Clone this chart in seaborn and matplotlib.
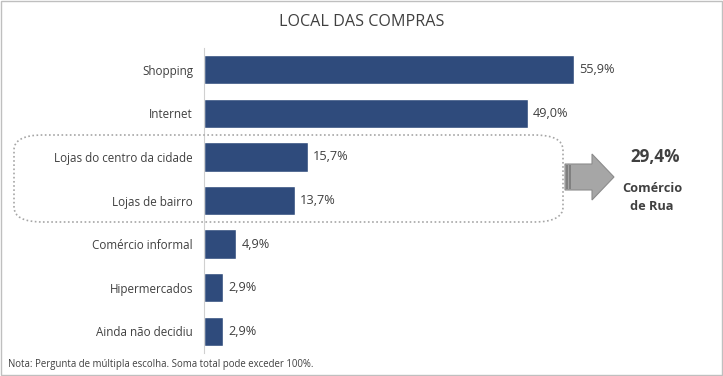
import pandas as pd
import seaborn as sns
import matplotlib.pyplot as plt
from matplotlib.patches import FancyBboxPatch, FancyArrow, Rectangle

categories = ["Shopping", "Internet", "Lojas do centro da cidade", "Lojas de bairro",
              "Comércio informal", "Hipermercados", "Ainda não decidiu"]
values = [55.9, 49.0, 15.7, 13.7, 4.9, 2.9, 2.9]
value_labels = ["55,9%", "49,0%", "15,7%", "13,7%", "4,9%", "2,9%", "2,9%"]
group_total = "29,4%"
group_name = "Comércio\nde Rua"

sns.set_style("white")
plt.rcParams["font.family"] = ["Open Sans", "DejaVu Sans"]

text_color = "#404040"
bar_color = "#2F4B7C"

df = pd.DataFrame({"categoria": categories, "valor": values})

fig = plt.figure(figsize=(7.23, 3.76), dpi=100)
ax = fig.add_axes([204 / 723, 1 - 353 / 376, 397 / 723, 305 / 376])

sns.barplot(data=df, x="valor", y="categoria", color=bar_color, width=0.67,
            saturation=1, ax=ax)

ax.set_xlim(0, 60)
ax.set_ylim(6.5, -0.5)
ax.set_xlabel("")
ax.set_ylabel("")
ax.set_xticks([])
ax.tick_params(axis="y", length=0, labelsize=8.4, labelcolor=text_color, pad=8)
for side in ["top", "right", "bottom"]:
    ax.spines[side].set_visible(False)
ax.spines["left"].set_color("#D0D0D0")
ax.spines["left"].set_linewidth(0.8)

for i, (v, lab) in enumerate(zip(values, value_labels)):
    ax.text(v + 0.75, i, lab, va="center", ha="left", fontsize=9.2, color=text_color)

# titulo e nota
fig.text(362 / 723, 1 - 22 / 376, "LOCAL DAS COMPRAS", ha="center", va="center",
         fontsize=11.6, color=text_color)
fig.text(8 / 723, 1 - 365 / 376, "Nota: Pergunta de múltipla escolha. Soma total pode exceder 100%.",
         ha="left", va="center", fontsize=6.9, color=text_color)

# caixa pontilhada em torno do comercio de rua
box = FancyBboxPatch((14 / 723, 1 - 222 / 376), (563 - 14) / 723, (222 - 135) / 376,
                     boxstyle="round,pad=0,rounding_size=0.04", transform=fig.transFigure,
                     fill=False, edgecolor="#A6A6A6", linestyle=(0, (1, 1.5)), linewidth=1.2)
fig.add_artist(box)

# seta
arrow = FancyArrow(565 / 723, 1 - 177 / 376, 27 / 723, 0, width=26 / 376,
                   head_width=46 / 376, head_length=22 / 723, length_includes_head=False,
                   transform=fig.transFigure, facecolor="#A6A6A6", edgecolor="#8C8C8C",
                   linewidth=0.8)
fig.add_artist(arrow)
for x0 in (566, 569):
    fig.add_artist(Rectangle((x0 / 723, 1 - 189 / 376), 1.6 / 723, 24 / 376,
                             transform=fig.transFigure, facecolor="#808080",
                             edgecolor="none"))

fig.text(655 / 723, 1 - 157 / 376, group_total, ha="center", va="center",
         fontsize=12.3, fontweight="bold", color=text_color)
fig.text(652 / 723, 1 - 197 / 376, group_name, ha="center", va="center",
         fontsize=9.2, fontweight="bold", color=text_color, linespacing=1.5)

# moldura
fig.add_artist(Rectangle((0.001, 0.002), 0.997, 0.995, transform=fig.transFigure,
                         fill=False, edgecolor="#BFBFBF", linewidth=1))

fig.savefig("out.png", dpi=100)
